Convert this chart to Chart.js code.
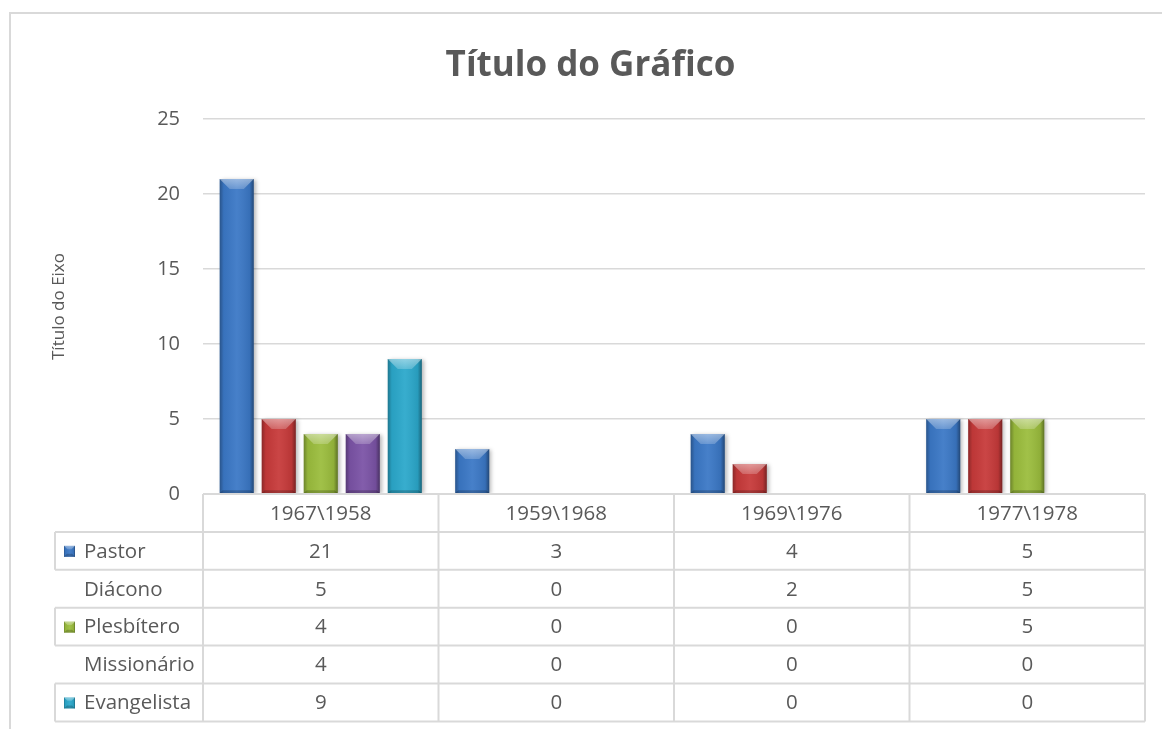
<!DOCTYPE html>
<html>
<head>
<meta charset="utf-8">
<script src="https://cdn.jsdelivr.net/npm/chart.js@4.4.1/dist/chart.umd.min.js"></script>
<style>
  html, body { margin: 0; padding: 0; background: #ffffff; }
  #wrap { width: 1162px; height: 729px; position: relative; }
</style>
</head>
<body>
<div id="wrap"><canvas id="c" width="1162" height="729"></canvas></div>
<script>
// ---- data ----
const categories = ['1967\\1958', '1959\\1968', '1969\\1976', '1977\\1978'];
const seriesNames = ['Pastor', 'Diácono', 'Plesbítero', 'Missionário', 'Evangelista'];
const pastor = [21, 3, 4, 5];
const diacono = [5, 0, 2, 5];
const plesbitero = [4, 0, 0, 5];
const missionario = [4, 0, 0, 0];
const evangelista = [9, 0, 0, 0];
const yTicks = [0, 5, 10, 15, 20, 25];
const chartTitle = 'Título do Gráfico';
const axisTitle = 'Título do Eixo';

// ---- styles ----
const colors = ['#3b78c6', '#c73a3a', '#9bbd3d', '#7b53a6', '#2ba8cb'];
const showKey = [true, false, true, false, true];
const showRowBox = [true, false, true, false, true];
const textColor = '#595959';
const lineColor = '#d9d9d9';
const FONT = "'Open Sans', 'Noto Sans', sans-serif";

function bevel(ctx, x0, y0, x1, y1) {
  const w = x1 - x0, h = y1 - y0;
  if (w <= 0 || h <= 0) return;
  const b = Math.min(10, w * 0.3, h / 2);
  ctx.save();
  const g = ctx.createLinearGradient(x0, 0, x1, 0);
  g.addColorStop(0, 'rgba(0,0,0,0.30)');
  g.addColorStop(0.12, 'rgba(0,0,0,0.05)');
  g.addColorStop(0.5, 'rgba(255,255,255,0.06)');
  g.addColorStop(0.88, 'rgba(0,0,0,0.08)');
  g.addColorStop(1, 'rgba(0,0,0,0.40)');
  ctx.fillStyle = g;
  ctx.fillRect(x0, y0, w, h);
  ctx.beginPath();
  ctx.moveTo(x0, y0);
  ctx.lineTo(x1, y0);
  ctx.lineTo(x1 - b, y0 + b);
  ctx.lineTo(x0 + b, y0 + b);
  ctx.closePath();
  const tg = ctx.createLinearGradient(0, y0, 0, y0 + b);
  tg.addColorStop(0, 'rgba(255,255,255,0.45)');
  tg.addColorStop(1, 'rgba(255,255,255,0.2)');
  ctx.fillStyle = tg;
  ctx.fill();
  const bb = Math.min(b, 3);
  ctx.beginPath();
  ctx.moveTo(x0, y1);
  ctx.lineTo(x1, y1);
  ctx.lineTo(x1 - bb, y1 - bb);
  ctx.lineTo(x0 + bb, y1 - bb);
  ctx.closePath();
  ctx.fillStyle = 'rgba(0,0,0,0.2)';
  ctx.fill();
  ctx.restore();
}

const decorPlugin = {
  id: 'decor',
  beforeDraw(chart) {
    const ctx = chart.ctx;
    ctx.save();
    ctx.fillStyle = '#ffffff';
    ctx.fillRect(0, 0, chart.width, chart.height);
    ctx.strokeStyle = lineColor;
    ctx.lineWidth = 2;
    ctx.strokeRect(10, 13, chart.width + 20, chart.height + 20);
    ctx.restore();
  },
  beforeDatasetsDraw(chart) {
    const ctx = chart.ctx;
    ctx.save();
    ctx.shadowColor = 'rgba(0,0,0,0.28)';
    ctx.shadowBlur = 4;
    ctx.shadowOffsetX = 2;
    ctx.shadowOffsetY = 1;
  },
  afterDatasetsDraw(chart) {
    const ctx = chart.ctx;
    ctx.restore();
    chart.data.datasets.forEach((ds, i) => {
      const meta = chart.getDatasetMeta(i);
      meta.data.forEach(el => {
        const p = el.getProps(['x', 'y', 'base', 'width'], true);
        bevel(ctx, p.x - p.width / 2, Math.min(p.y, p.base), p.x + p.width / 2, Math.max(p.y, p.base));
      });
    });
  },
  afterDraw(chart) {
    const ctx = chart.ctx;
    const xs = chart.scales.x;
    const area = chart.chartArea;
    const nRows = seriesNames.length;
    const top = area.bottom;
    const rowH = 37.9;
    const tableLeft = 55;
    const bottom = top + rowH * (nRows + 1);
    const step = (area.right - area.left) / categories.length;
    ctx.save();
    ctx.strokeStyle = lineColor;
    ctx.lineWidth = 2;
    ctx.beginPath();
    ctx.moveTo(area.left, top); ctx.lineTo(area.right, top);
    for (let k = 0; k <= categories.length; k++) {
      const x = area.left + k * step;
      ctx.moveTo(x, top); ctx.lineTo(x, bottom);
    }
    for (let r = 1; r <= nRows + 1; r++) {
      const y = top + r * rowH;
      ctx.moveTo(tableLeft, y); ctx.lineTo(area.right, y);
    }
    ctx.stroke();
    ctx.beginPath();
    for (let r = 0; r < nRows; r++) {
      if (!showRowBox[r]) continue;
      const y0 = top + (r + 1) * rowH, y1 = y0 + rowH;
      ctx.moveTo(tableLeft, y0); ctx.lineTo(tableLeft, y1);
    }
    ctx.stroke();
    ctx.fillStyle = textColor;
    ctx.font = '20.5px ' + FONT;
    ctx.textAlign = 'center';
    ctx.textBaseline = 'middle';
    categories.forEach((c, k) => {
      ctx.fillText(c, xs.getPixelForValue(k), top + rowH / 2 + 1);
    });
    chart.data.datasets.forEach((ds, r) => {
      const yc = top + (r + 1) * rowH + rowH / 2 + 1;
      ctx.textAlign = 'left';
      ctx.fillStyle = textColor;
      ctx.fillText(ds.label, 84, yc);
      ds.data.forEach((v, k) => {
        ctx.textAlign = 'center';
        ctx.fillText(String(v), xs.getPixelForValue(k), yc);
      });
      if (showKey[r]) {
        const kx = 64, ky = yc - 6, ks = 11;
        ctx.fillStyle = ds.backgroundColor;
        ctx.fillRect(kx, ky, ks, ks);
        bevel(ctx, kx, ky, kx + ks, ky + ks);
      }
    });
    ctx.restore();
  }
};

const dataSeries = [pastor, diacono, plesbitero, missionario, evangelista];

new Chart(document.getElementById('c'), {
  type: 'bar',
  data: {
    labels: categories,
    datasets: seriesNames.map((name, i) => ({
      label: name,
      data: dataSeries[i],
      backgroundColor: colors[i],
      borderWidth: 0,
      categoryPercentage: 0.892,
      barPercentage: 0.81
    }))
  },
  options: {
    responsive: false,
    animation: false,
    devicePixelRatio: 1,
    layout: { padding: { top: 0, left: 36, right: 17, bottom: 235 } },
    plugins: {
      legend: { display: false },
      tooltip: { enabled: false },
      title: {
        display: true,
        text: chartTitle,
        color: textColor,
        font: { family: FONT, size: 35, weight: 'bold' },
        padding: { top: 45, bottom: 32 }
      }
    },
    scales: {
      x: {
        grid: { display: false, drawTicks: false },
        border: { display: false },
        ticks: { display: false },
        afterFit(s) { s.height = 0; }
      },
      y: {
        min: 0, max: 25,
        afterBuildTicks(s) { s.ticks = yTicks.map(v => ({ value: v })); },
        grid: { color: lineColor, lineWidth: 1.5, drawTicks: false },
        border: { display: false },
        ticks: { color: textColor, padding: 23, font: { family: FONT, size: 20 } },
        title: {
          display: true,
          text: axisTitle,
          color: textColor,
          font: { family: FONT, size: 17 },
          padding: { top: 13, bottom: 0 }
        },
        afterFit(s) { s.width = 167; }
      }
    }
  },
  plugins: [decorPlugin]
});
</script>
</body>
</html>
